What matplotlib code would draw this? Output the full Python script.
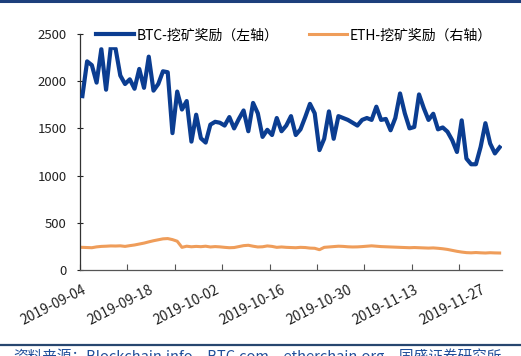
import numpy as np
import matplotlib
matplotlib.use('Agg')
import matplotlib.pyplot as plt
from matplotlib.lines import Line2D
from matplotlib.ticker import FixedLocator

plt.rcParams['font.family'] = ['Noto Sans CJK SC', 'DejaVu Sans']

# 日期: 2019-09-04 ~ 2019-12-01, 每日
dates = np.arange('2019-09-04', '2019-12-02', dtype='datetime64[D]')

btc = [1842, 2210, 2170, 1985, 2340, 1910, 2365, 2345, 2060, 1970,
       2020, 1920, 2130, 1930, 2260, 1900, 1970, 2105, 2095, 1450,
       1890, 1700, 1790, 1360, 1645, 1395, 1350, 1540, 1570, 1560,
       1530, 1620, 1500, 1600, 1690, 1470, 1770, 1660, 1410, 1485,
       1430, 1610, 1470, 1530, 1630, 1430, 1490, 1620, 1760, 1660,
       1270, 1390, 1680, 1390, 1630, 1610, 1590, 1560, 1530, 1590,
       1610, 1590, 1730, 1590, 1600, 1480, 1610, 1870, 1660, 1500,
       1515, 1860, 1715, 1590, 1655, 1490, 1510, 1465, 1375, 1250,
       1585, 1180, 1120, 1120, 1305, 1555, 1340, 1235, 1300]

eth = [240, 238, 236, 245, 250, 252, 255, 254, 256, 250,
       258, 265, 275, 285, 298, 310, 320, 330, 333, 322,
       305, 240, 252, 246, 250, 247, 252, 244, 248, 245,
       240, 236, 238, 248, 258, 262, 252, 244, 246, 255,
       250, 240, 244, 240, 238, 236, 240, 238, 232, 230,
       215, 240, 244, 248, 252, 250, 246, 244, 245, 248,
       252, 256, 252, 248, 246, 244, 242, 240, 238, 236,
       238, 236, 234, 232, 234, 230, 225, 218, 208, 198,
       190, 184, 182, 185, 182, 180, 183, 181, 180]

labels = [str(d) for d in dates]
x = np.arange(len(dates))

fig = plt.figure(figsize=(5.21, 3.56), dpi=100)
ax = fig.add_axes([80/521, 86/356, 422/521, 236/356])

ax.plot(x, btc, color='#0b3d91', lw=3.0, label='BTC-挖矿奖励（左轴）', zorder=3)
ax.plot(x, eth, color='#ef9d5a', lw=2.2, label='ETH-挖矿奖励（右轴）', zorder=2)

ax.set_xlim(-0.5, len(x) - 0.5)
ax.set_ylim(0, 2500)
ax.set_yticks([0, 500, 1000, 1500, 2000, 2500])
ax.tick_params(axis='y', direction='inout', length=5, width=0.8,
               labelsize=9.5, pad=7, colors='#222222')

ax.set_xticks(x[::14])
ax.set_xticklabels(labels[::14], rotation=27, ha='right',
                   rotation_mode='anchor', fontsize=10)
ax.tick_params(axis='x', which='major', length=0, pad=9, colors='#222222')
ax.xaxis.set_minor_locator(FixedLocator(np.arange(-0.5, len(x) - 5, 10)))
ax.tick_params(axis='x', which='minor', direction='in', length=4,
               width=0.8, color='#555555')

for s in ['top', 'right']:
    ax.spines[s].set_visible(False)
ax.spines['left'].set_color('#333333')
ax.spines['bottom'].set_color('#555555')
ax.spines['left'].set_linewidth(0.9)
ax.spines['bottom'].set_linewidth(0.9)

leg = ax.legend(loc='center left', bbox_to_anchor=(12/422, 0.995), ncol=2,
                frameon=True, fancybox=False, framealpha=1, edgecolor='white',
                facecolor='white', fontsize=10, handlelength=2.75,
                handletextpad=0.15, columnspacing=2.2, borderpad=0.3,
                borderaxespad=0)
leg.set_zorder(5)

# 顶部和底部装饰线
fig.add_artist(Line2D([0, 1], [1 - 1/356, 1 - 1/356], color='#1d3f7c', lw=2.2))
fig.add_artist(Line2D([0, 1], [11/356, 11/356], color='#27466f', lw=1.6))
fig.text(13/521, 8/356, '资料来源：Blockchain.info、BTC.com、etherchain.org、国盛证券研究所',
         fontsize=10.5, color='#1f4e9a', style='italic', va='top', ha='left')

fig.savefig('out.png', dpi=100)
